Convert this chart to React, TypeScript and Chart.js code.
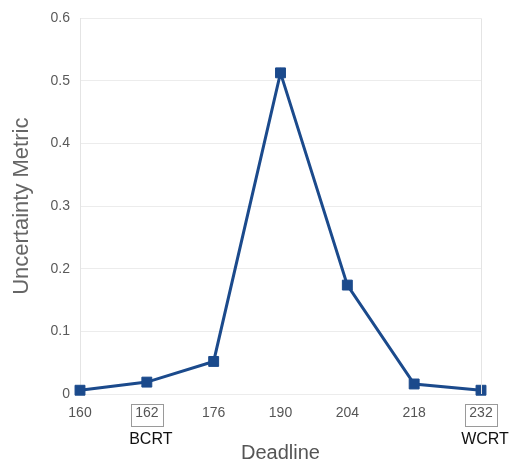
import React, { useEffect, useRef } from "react";
import { Chart, registerables } from "chart.js";

Chart.register(...registerables);

const categories = ["160", "162", "176", "190", "204", "218", "232"];
const values = [0.006, 0.019, 0.052, 0.513, 0.174, 0.016, 0.006];
const yTicks = [0, 0.1, 0.2, 0.3, 0.4, 0.5, 0.6];
const markers: { category: string; label: string }[] = [
  { category: "162", label: "BCRT" },
  { category: "232", label: "WCRT" },
];

const FONT = "'Liberation Sans', Arial, sans-serif";
const LINE = "#1b4a8c";

const annotatePlugin = {
  id: "annotate",
  afterDraw(chart: any) {
    const { ctx, chartArea, scales } = chart;
    const x = scales.x;
    ctx.save();
    ctx.strokeStyle = "#e4e4e4";
    ctx.lineWidth = 1;
    ctx.beginPath();
    ctx.moveTo(Math.round(chartArea.right) + 0.5, chartArea.top);
    ctx.lineTo(Math.round(chartArea.right) + 0.5, chartArea.bottom);
    ctx.stroke();
    for (const m of markers) {
      const idx = categories.indexOf(m.category);
      const px = x.getPixelForValue(idx);
      ctx.strokeStyle = "#9a9a9a";
      ctx.lineWidth = 1;
      ctx.strokeRect(Math.round(px - 16) + 0.5, Math.round(chartArea.bottom + 10) + 0.5, 32, 22);
      ctx.fillStyle = "#111";
      ctx.font = `16px ${FONT}`;
      ctx.textAlign = "center";
      ctx.textBaseline = "middle";
      ctx.fillText(m.label, px + 4, chartArea.bottom + 46);
    }
    ctx.restore();
  },
};

export default function App() {
  const ref = useRef<HTMLCanvasElement | null>(null);
  useEffect(() => {
    document.body.style.margin = "0";
    const chart = new Chart(ref.current as HTMLCanvasElement, {
      type: "line",
      data: {
        labels: categories,
        datasets: [
          {
            data: values,
            borderColor: LINE,
            backgroundColor: LINE,
            borderWidth: 3,
            pointStyle: "rect",
            pointRadius: 7,
            pointBorderWidth: 1,
            tension: 0,
            clip: false as any,
          },
        ],
      },
      options: {
        animation: false,
        responsive: false,
        maintainAspectRatio: false,
        layout: { padding: { top: 17, right: 34, left: 0, bottom: 0 } },
        plugins: { legend: { display: false }, tooltip: { enabled: false } },
        scales: {
          x: {
            type: "category",
            offset: false,
            grid: { display: false, drawTicks: false },
            border: { display: false },
            ticks: {
              padding: 11,
              color: "#555",
              font: { family: FONT, size: 14 },
              maxRotation: 0,
              autoSkip: false,
            },
            title: {
              display: true,
              text: "Deadline",
              color: "#555",
              font: { family: FONT, size: 20, lineHeight: 1 },
              padding: { top: 0, bottom: 0 },
            },
            afterFit: (s: any) => {
              s.height = 69;
            },
          },
          y: {
            min: 0,
            max: 0.6,
            afterBuildTicks: (s: any) => {
              s.ticks = yTicks.map((v) => ({ value: v }));
            },
            grid: { color: "#ececec", drawTicks: false },
            border: { display: true, color: "#e4e4e4" },
            ticks: {
              padding: 10,
              color: "#5a5a5a",
              font: { family: FONT, size: 14 },
            },
            title: {
              display: true,
              text: "Uncertainty Metric",
              color: "#666",
              font: { family: FONT, size: 22, lineHeight: 1 },
              padding: { top: 11, bottom: 0 },
            },
            afterFit: (s: any) => {
              s.width = 80;
            },
          },
        },
      },
      plugins: [annotatePlugin],
    });
    return () => chart.destroy();
  }, []);
  return (
    <div style={{ width: 515, height: 463, background: "#fff" }}>
      <canvas ref={ref} width={515} height={463} style={{ display: "block" }} />
    </div>
  );
}
